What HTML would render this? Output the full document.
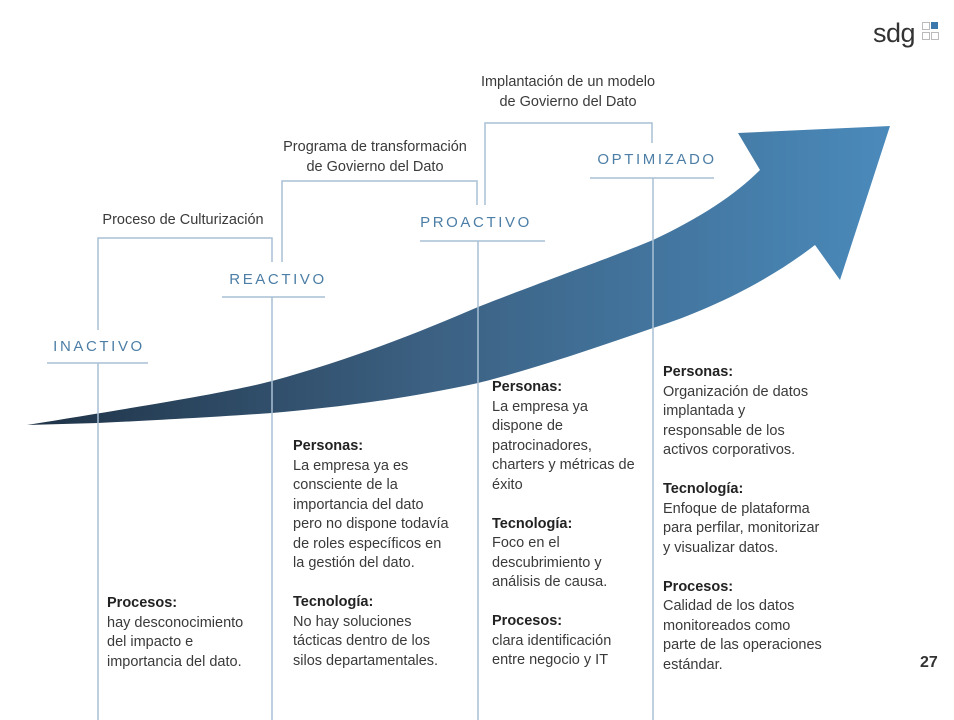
<!DOCTYPE html>
<html><head><meta charset="utf-8"><style>
body{margin:0;width:954px;height:720px;background:#fff;position:relative;overflow:hidden;font-family:"Liberation Sans",sans-serif}
.t{position:absolute;font-size:14.5px;line-height:19.5px;color:#3a3a3a;white-space:nowrap}
.t b{color:#222}
.lab{position:absolute;font-size:15px;color:#4c7ea6;letter-spacing:2.6px;transform:translateX(-50%);white-space:nowrap}
.c{position:absolute;font-size:14.5px;line-height:19.5px;color:#3a3a3a;text-align:center;transform:translateX(-50%);white-space:nowrap}
</style></head><body>
<svg width="954" height="720" style="position:absolute;left:0;top:0">
<defs><linearGradient id="g" x1="27" y1="0" x2="890" y2="0" gradientUnits="userSpaceOnUse">
<stop offset="0" stop-color="#1f3347"/><stop offset="0.45" stop-color="#3b5f80"/><stop offset="1" stop-color="#4a8abb"/></linearGradient></defs>
<path d="M27,425 C150,405 230,392 272,381 C350,360 420,332 478,307 C560,275 610,258 653,240 C700,218 735,195 760,170 L738,133 L890,126 L840,280 L815,245 C770,280 710,310 653,328 C590,350 530,370 478,383 C400,400 330,408 272,413 C200,418 140,421 98,423 Z" fill="url(#g)"/>
<g stroke="#a9c0d6" stroke-width="1.5" fill="none">
<path d="M98,330 V238 H272 V262"/>
<path d="M282,262 V181 H477 V205"/>
<path d="M485,205 V123 H652 V143"/>
<path d="M98,363 V720 M272,297 V720 M478,241 V720 M653,178 V720"/>
<path d="M47,363 H148 M222,297 H325 M420,241 H545 M590,178 H714"/>
</g>
<g fill="#2b6ea8"><path d="M920,22 h8 l-8,-0 z"/></g>
</svg>
<div style="position:absolute;left:873px;top:18px;font-size:27px;color:#333;letter-spacing:-0.5px">sdg</div>
<div style="position:absolute;left:922px;top:22px;width:6px;height:6px;border:1px solid #bbb"></div>
<div style="position:absolute;left:931px;top:22px;width:7px;height:7px;background:#3b79ad"></div>
<div style="position:absolute;left:922px;top:32px;width:6px;height:6px;border:1px solid #bbb"></div>
<div style="position:absolute;left:931px;top:32px;width:6px;height:6px;border:1px solid #bbb"></div>

<div class="lab" style="left:99px;top:338px">INACTIVO</div>
<div class="lab" style="left:278px;top:271px">REACTIVO</div>
<div class="lab" style="left:476px;top:214px">PROACTIVO</div>
<div class="lab" style="left:657px;top:151px">OPTIMIZADO</div>

<div class="c" style="left:183px;top:211px">Proceso de Culturización</div>
<div class="c" style="left:375px;top:138px">Programa de transformación<br>de Govierno del Dato</div>
<div class="c" style="left:568px;top:73px">Implantación de un modelo<br>de Govierno del Dato</div>

<div class="t" style="left:107px;top:594px"><b>Procesos:</b><br>hay desconocimiento<br>del impacto e<br>importancia del dato.</div>
<div class="t" style="left:293px;top:437px"><b>Personas:</b><br>La empresa ya es<br>consciente de la<br>importancia del dato<br>pero no dispone todavía<br>de roles específicos en<br>la gestión del dato.<br><br><b>Tecnología:</b><br>No hay soluciones<br>tácticas dentro de los<br>silos departamentales.</div>
<div class="t" style="left:492px;top:378px"><b>Personas:</b><br>La empresa ya<br>dispone de<br>patrocinadores,<br>charters y métricas de<br>éxito<br><br><b>Tecnología:</b><br>Foco en el<br>descubrimiento y<br>análisis de causa.<br><br><b>Procesos:</b><br>clara identificación<br>entre negocio y IT</div>
<div class="t" style="left:663px;top:363px"><b>Personas:</b><br>Organización de datos<br>implantada y<br>responsable de los<br>activos corporativos.<br><br><b>Tecnología:</b><br>Enfoque de plataforma<br>para perfilar, monitorizar<br>y visualizar datos.<br><br><b>Procesos:</b><br>Calidad de los datos<br>monitoreados como<br>parte de las operaciones<br>estándar.</div>
<div style="position:absolute;left:920px;top:654px;font-size:16px;font-weight:bold;color:#333">27</div>
</body></html>
